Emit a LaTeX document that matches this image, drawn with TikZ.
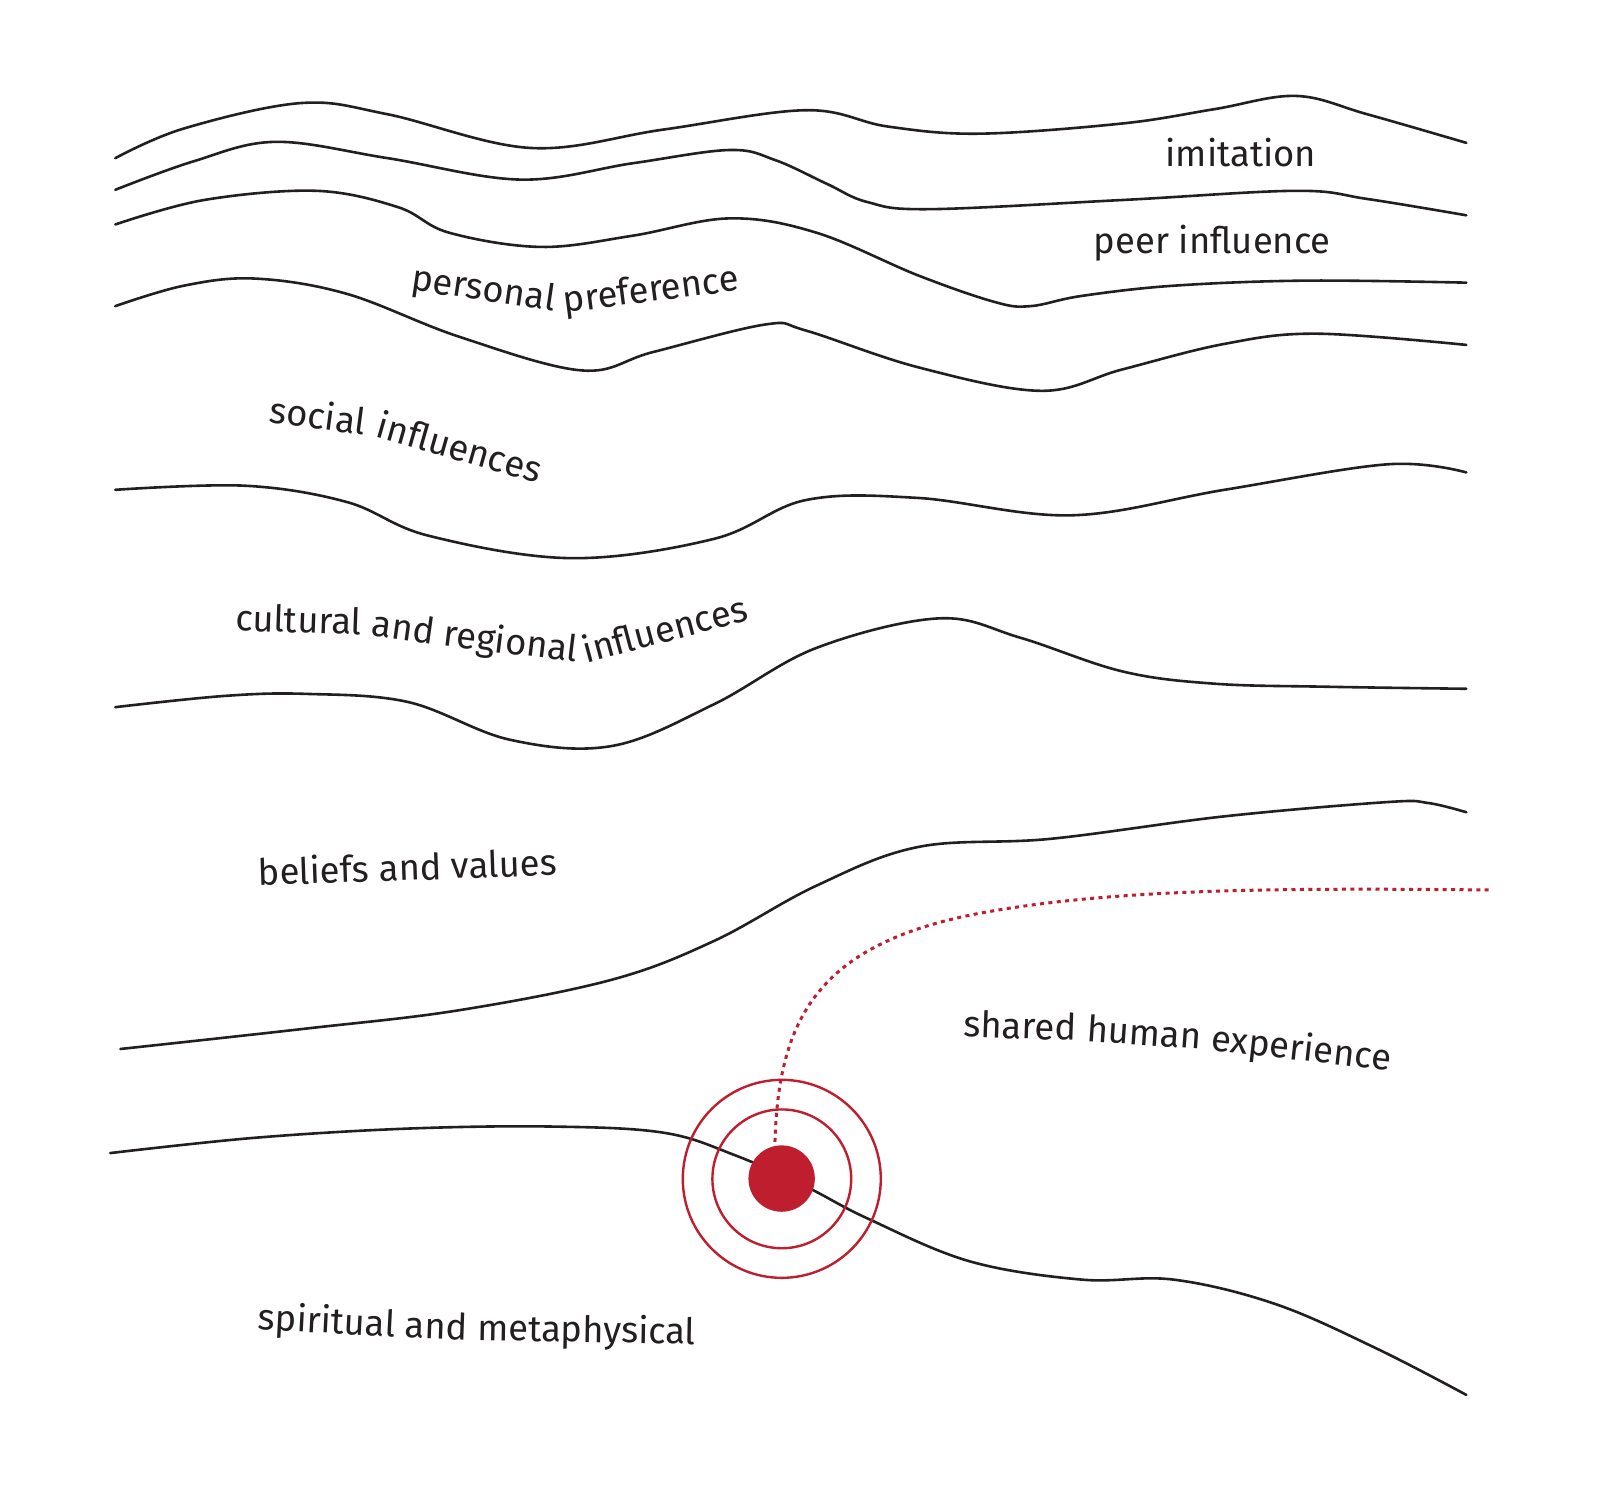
\documentclass[tikz,border=0pt]{standalone}
\usepackage{fontspec}
\setmainfont{Fira Sans}
\usetikzlibrary{calc}
\definecolor{tred}{HTML}{BE1E2D}
\definecolor{tink}{HTML}{231F20}
\newcommand\lblfont{\fontsize{18.2}{22}\selectfont}
\begin{document}
\begin{tikzpicture}[x=0.5pt,y=-0.5pt,
  contour/.style={draw=tink, line width=1.3pt, line cap=round},
  lbl/.style={font=\lblfont, text=tink, inner sep=0pt},
  wordlbl/.style={lbl, anchor=base west},
  ring/.style={circle, draw=tred, line width=1.2pt, inner sep=0pt},
  reddots/.style={draw=tred, line width=1.5pt, dash pattern=on 2pt off 2.2pt}
]
\path[use as bounding box, fill=white] (0,0) rectangle (1600,1489);
\begin{scope}[scale=1.0204]
% contour lines
\draw[contour] plot[smooth, tension=0.6] coordinates {(113,155) (180,126) (295,101) (380,112) (520,145) (650,127) (790,108) (870,124) (960,131) (1100,121) (1190,107) (1270,94) (1340,112) (1437,140)};
\draw[contour] plot[smooth, tension=0.6] coordinates {(113,186) (190,158) (270,139) (380,155) (510,176) (620,160) (715,147) (760,157) (810,180) (850,198) (910,205) (1100,196) (1270,187) (1340,195) (1437,211)};
\draw[contour] plot[smooth, tension=0.6] coordinates {(113,220) (200,196) (310,187) (390,203) (440,228) (530,242) (620,231) (715,214) (800,228) (900,270) (975,296) (1010,300) (1060,290) (1150,280) (1280,275) (1437,277)};
\draw[contour] plot[smooth, tension=0.6] coordinates {(113,300) (180,280) (250,273) (340,288) (450,330) (570,363) (640,345) (750,318) (790,324) (900,360) (1020,383) (1100,362) (1200,337) (1290,327) (1437,338)};
\draw[contour] plot[smooth, tension=0.6] coordinates {(113,480) (240,476) (340,492) (420,525) (560,547) (700,528) (790,490) (900,488) (1050,505) (1200,480) (1360,455) (1437,463)};
\draw[contour] plot[smooth, tension=0.6] coordinates {(113,693) (220,682) (300,680) (400,688) (500,725) (600,731) (700,690) (800,635) (920,606) (1000,625) (1100,658) (1190,670) (1300,673) (1437,675)};
\draw[contour] plot[smooth, tension=0.6] coordinates {(118,1028) (300,1008) (450,990) (600,960) (700,922) (800,868) (900,830) (1030,822) (1200,800) (1360,786) (1400,787) (1437,796)};
\draw[contour] plot[smooth, tension=0.6] coordinates {(108,1130) (250,1115) (400,1106) (540,1104) (650,1110) (720,1132) (790,1163) (850,1194) (950,1236) (1060,1254) (1150,1254) (1250,1278) (1350,1322) (1437,1367)};

% labels
\node[lbl, anchor=base] (imit) at (1216,163) {imitation};
\node[lbl, anchor=base] (peer) at (1188,248) {peer influence};

\node[wordlbl, rotate=-8.5] (pp1) at (402,284) {personal};
\node[wordlbl, rotate=7.3] (pp2) at ($(pp1.base east)!-5pt!(pp1.base west)$) {preference};

\node[wordlbl, rotate=-7.5] (si1) at (263,414) {social};
\node[wordlbl, rotate=-16] (si2) at ($(si1.base east)!-5pt!(si1.base west)$) {influences};

\node[wordlbl, rotate=-2] (cr1) at (230,618) {cultural};
\node[wordlbl, rotate=-8] (cr2) at ($(cr1.base east)!-4.3pt!(cr1.base west)$) {and};
\node[wordlbl, rotate=-7] (cr3) at ($(cr2.base east)!-4.3pt!(cr2.base west)$) {regional};
\node[wordlbl, rotate=15] (cr4) at ($(cr3.base east)!-4.5pt!(cr3.base west)$) {influences};

\node[wordlbl, rotate=2] (bv) at (253,868) {beliefs and values};

\node[wordlbl, rotate=-2] (sh1) at (944,1016) {shared};
\node[wordlbl, rotate=-4] (sh2) at ($(sh1.base east)!-4.3pt!(sh1.base west)$) {human};
\node[wordlbl, rotate=-6.5] (sh3) at ($(sh2.base east)!-4.3pt!(sh2.base west)$) {experience};

\node[wordlbl, rotate=-3] (sp1) at (252,1303) {spiritual};
\node[wordlbl, rotate=-2] (sp2) at ($(sp1.base east)!-4.3pt!(sp1.base west)$) {and};
\node[wordlbl, rotate=-1] (sp3) at ($(sp2.base east)!-4.3pt!(sp2.base west)$) {metaphysical};

% target
\node[circle, fill=tred, inner sep=0pt, minimum size=33.2pt] (dot) at (766,1155) {};
\node[ring, minimum size=69.4pt] (ringin) at (dot.center) {};
\node[ring, minimum size=99pt] (ringout) at (dot.center) {};
\coordinate (tip) at (1460,872);
\draw[reddots, shorten <=2pt] (dot.102) .. controls (763,1000) and (800,925) .. (960,895) .. controls (1090,871) and (1250,870) .. (tip);
\end{scope}
\end{tikzpicture}
\end{document}
